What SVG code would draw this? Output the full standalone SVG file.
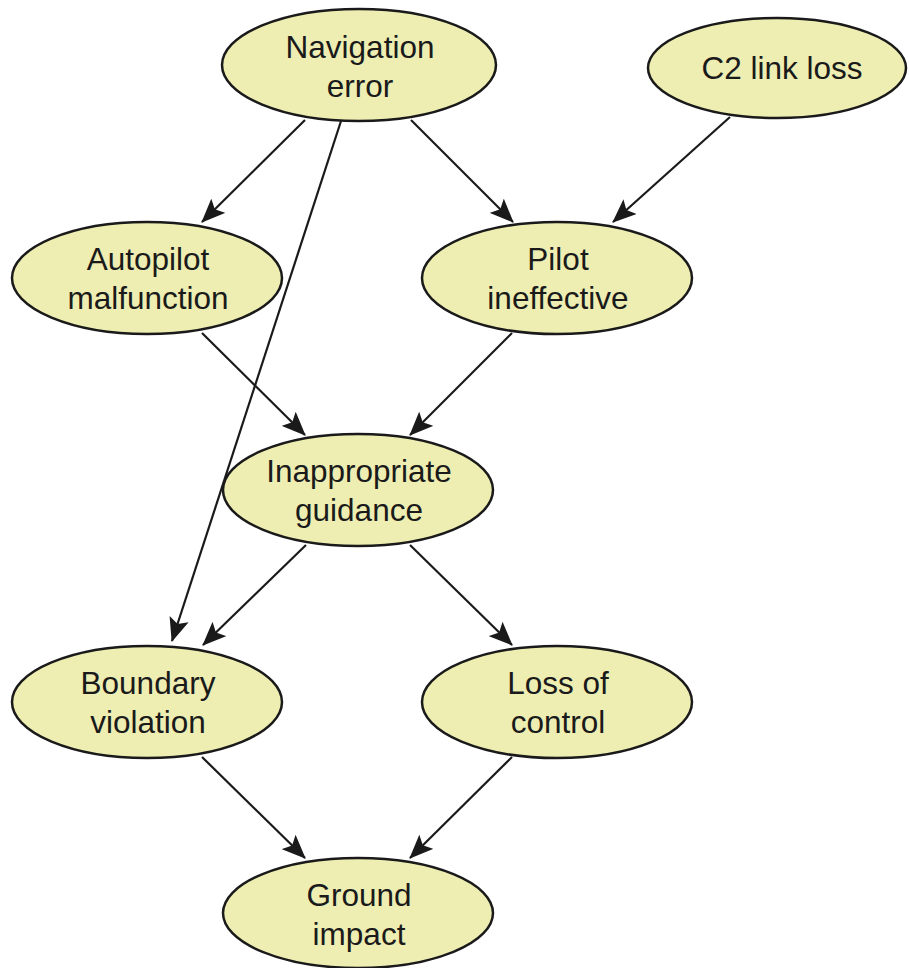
<svg xmlns="http://www.w3.org/2000/svg" width="909" height="968" viewBox="0 0 909 968">
<style>
.n ellipse{fill:#eeeeb3;stroke:#1a1a1a;stroke-width:2.5}
.n text{font-family:"Liberation Sans",Arial,sans-serif;font-size:31.5px;fill:#1a1a1a;text-anchor:middle}
.c line{stroke:#1a1a1a;stroke-width:2.2;marker-end:url(#ah)}
</style>
<defs>
<marker id="ah" viewBox="0 0 24 20" refX="23" refY="10" markerWidth="24" markerHeight="20" markerUnits="userSpaceOnUse" orient="auto">
<path d="M0,0 L24,10 L0,20 L5,10 Z" fill="#1a1a1a"/>
</marker>
</defs>
<rect width="909" height="968" fill="#fff"/>
<g class="c" id="connectors">
<line x1="305" y1="120" x2="202" y2="222"/>
<line x1="341" y1="121" x2="172" y2="641"/>
<line x1="411" y1="120" x2="513" y2="222"/>
<line x1="730" y1="117" x2="613" y2="222"/>
<line x1="202" y1="333" x2="305" y2="435"/>
<line x1="512" y1="333" x2="410" y2="435"/>
<line x1="306" y1="545" x2="203" y2="645"/>
<line x1="410" y1="545" x2="512" y2="645"/>
<line x1="202" y1="757" x2="305" y2="858"/>
<line x1="512" y1="757" x2="410" y2="858"/>
</g>
<g class="n" id="nav"><ellipse cx="359" cy="65" rx="137" ry="56"/><text x="360" y="58">Navigation</text><text x="360" y="97">error</text></g>
<g class="n" id="c2"><ellipse cx="777" cy="68" rx="129" ry="50"/><text x="782" y="79">C2 link loss</text></g>
<g class="n" id="autopilot"><ellipse cx="147" cy="278" rx="135" ry="56"/><text x="148" y="270">Autopilot</text><text x="148" y="309">malfunction</text></g>
<g class="n" id="pilot"><ellipse cx="557" cy="278" rx="135" ry="56"/><text x="558" y="270">Pilot</text><text x="558" y="309">ineffective</text></g>
<g class="n" id="guidance"><ellipse cx="358" cy="490" rx="135" ry="56"/><text x="359" y="482">Inappropriate</text><text x="359" y="521">guidance</text></g>
<g class="n" id="boundary"><ellipse cx="147" cy="702" rx="135" ry="56"/><text x="148" y="694">Boundary</text><text x="148" y="733">violation</text></g>
<g class="n" id="loss"><ellipse cx="557" cy="702" rx="135" ry="56"/><text x="558" y="694">Loss of</text><text x="558" y="733">control</text></g>
<g class="n" id="ground"><ellipse cx="358" cy="913" rx="135" ry="55"/><text x="359" y="906">Ground</text><text x="359" y="945">impact</text></g>
</svg>
